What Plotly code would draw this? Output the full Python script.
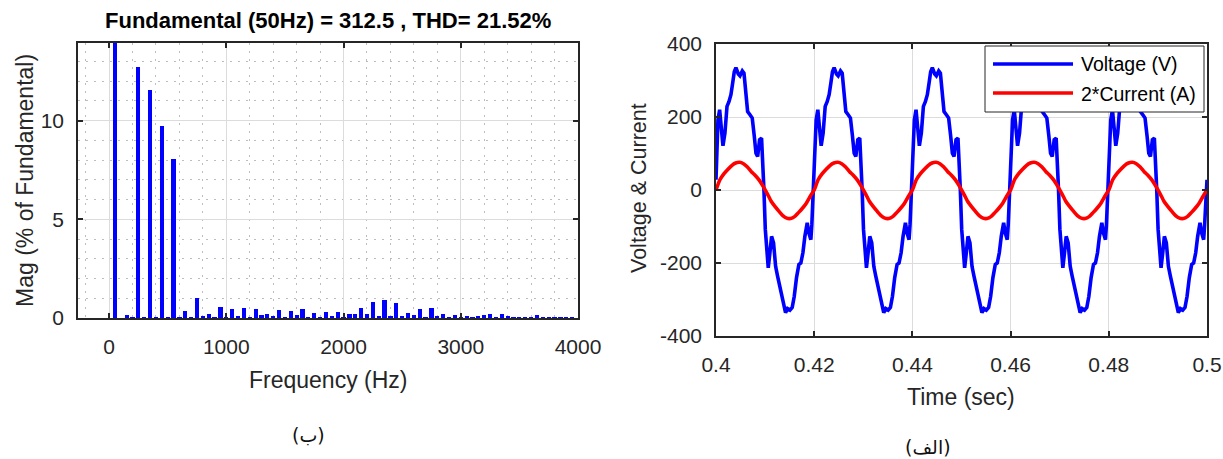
import plotly.graph_objects as go

# ---------------- data ----------------
# FFT spectrum (left panel)
FREQ_HZ = [50, 150, 200, 250, 300, 350, 400, 450, 500, 550, 600, 650, 700, 750, 800,
           850, 900, 950, 1000, 1050, 1100, 1150, 1200, 1250, 1300, 1350, 1400, 1450,
           1500, 1550, 1600, 1650, 1700, 1750, 1800, 1850, 1900, 1950, 2000, 2050,
           2100, 2150, 2200, 2250, 2300, 2350, 2400, 2450, 2500, 2550, 2600, 2650,
           2700, 2750, 2800, 2850, 2900, 2950, 3000, 3050, 3100, 3150, 3200, 3250,
           3300, 3350, 3400, 3450, 3500, 3550, 3600, 3650, 3700, 3750, 3800, 3850,
           3900, 3950]
MAG_PCT = [100, 0.15, 0.05, 12.73, 0.05, 11.53, 0.05, 9.71, 0.05, 8.07, 0.05, 0.35, 0.05,
           1.01, 0.10, 0.20, 0.05, 0.57, 0.05, 0.45, 0.10, 0.49, 0.05, 0.45, 0.14, 0.22,
           0.07, 0.43, 0.05, 0.35, 0.15, 0.46, 0.05, 0.25, 0.05, 0.30, 0.12, 0.29, 0.05,
           0.20, 0.20, 0.49, 0.22, 0.79, 0.10, 0.89, 0.08, 0.74, 0.12, 0.27, 0.15, 0.44,
           0.05, 0.49, 0.10, 0.22, 0.05, 0.14, 0.05, 0.12, 0.02, 0.12, 0.14, 0.22, 0.02,
           0.20, 0.08, 0.05, 0.03, 0.02, 0.05, 0.14, 0.02, 0.03, 0.02, 0.05, 0.05, 0.05]
FREQ_TICKS = [0, 1000, 2000, 3000, 4000]
MAG_TICKS = [0, 5, 10]

# Waveforms (right panel): one 50 Hz period, repeated 5 times
T_START = 0.4
PERIOD_S = 0.02
N_PERIODS = 5
V_PHASE = [0.000, 0.010, 0.020, 0.037, 0.054, 0.071, 0.091, 0.112, 0.132, 0.152, 0.169,
           0.186, 0.203, 0.227, 0.244, 0.268, 0.285, 0.305, 0.322, 0.346, 0.369, 0.390,
           0.407, 0.424, 0.444, 0.464, 0.478, 0.488, 0.502, 0.515, 0.532, 0.549, 0.566,
           0.586, 0.607, 0.627, 0.647, 0.668, 0.688, 0.708, 0.729, 0.753, 0.776, 0.797,
           0.820, 0.844, 0.864, 0.885, 0.905, 0.929, 0.946, 0.966, 0.976, 0.988]
V_VALUES = [28, 119, 192, 220, 174, 121, 156, 229, 242, 261, 292, 324, 335, 318, 313,
            326, 320, 265, 215, 206, 197, 147, 101, 92, 138, 142, 74, 1, -108, -172,
            -213, -172, -127, -145, -209, -236, -263, -291, -318, -336, -325, -329, -322,
            -291, -240, -204, -200, -172, -127, -90, -118, -136, -95, -20]
I_PHASE = [0.00, 0.04, 0.08, 0.12, 0.16, 0.20, 0.24, 0.28, 0.32, 0.36, 0.40, 0.44, 0.48,
           0.52, 0.56, 0.60, 0.64, 0.68, 0.72, 0.76, 0.80, 0.84, 0.88, 0.92, 0.96]
I_VALUES = [0, 28, 44, 56, 67, 74, 76, 72, 63, 50, 40, 27, 10, -9, -30, -45, -58, -70,
            -77, -78, -73, -62, -50, -36, -17]
TIME_TICKS = [0.4, 0.42, 0.44, 0.46, 0.48, 0.5]
TIME_TICK_TEXT = ["0.4", "0.42", "0.44", "0.46", "0.48", "0.5"]
VI_TICKS = [-400, -200, 0, 200, 400]
VI_TICK_TEXT = ["-400", "-200", "0", "200", "400"]


def tile(phases, values):
    t, v = [], []
    for k in range(N_PERIODS):
        for p, val in zip(phases, values):
            t.append(T_START + (k + p) * PERIOD_S)
            v.append(val)
    t.append(T_START + N_PERIODS * PERIOD_S)
    v.append(values[0])
    return t, v


tv, vv = tile(V_PHASE, V_VALUES)
ti, iv = tile(I_PHASE, I_VALUES)

# ---------------- figure ----------------
W, H = 1223, 459
FONT = "Liberation Sans, Arial, Helvetica, sans-serif"
AX = "#262626"
GRID = "#dcdcdc"
MINOR = dict(showgrid=True, griddash="2px,6px", gridcolor="#bdbdbd", gridwidth=1, ticks="")


def px(x):
    return x / W


def py(y):
    return 1 - y / H


fig = go.Figure()
fig.add_trace(go.Bar(x=FREQ_HZ, y=MAG_PCT, width=36, marker=dict(color="#0000ff", line=dict(width=0)),
                     xaxis="x", yaxis="y", showlegend=False))
fig.add_trace(go.Scatter(x=tv, y=vv, mode="lines", line=dict(color="#0000ff", width=3.6),
                         name="Voltage (V)", xaxis="x2", yaxis="y2", showlegend=False))
fig.add_trace(go.Scatter(x=ti, y=iv, mode="lines", line=dict(color="#ff0000", width=3.6, shape="spline", smoothing=0.6),
                         name="2*Current (A)", xaxis="x2", yaxis="y2", showlegend=False))

axis_common = dict(showline=True, linecolor=AX, linewidth=1.6, mirror="ticks", ticks="inside",
                   ticklen=5, tickwidth=1.6, tickcolor=AX, zeroline=False, showgrid=True,
                   automargin=False,
                   gridcolor=GRID, gridwidth=1, tickfont=dict(family=FONT, size=21, color=AX))

fig.update_layout(
    width=W, height=H, margin=dict(l=0, r=0, t=0, b=0, autoexpand=False),
    paper_bgcolor="white", plot_bgcolor="white", bargap=0,
    xaxis=dict(domain=[px(78), px(578)], range=[-265, 4000], tickvals=FREQ_TICKS,
               anchor="y", ticklabelstandoff=9,
               minor=dict(dtick=200, tick0=0, **MINOR),
               **axis_common),
    yaxis=dict(domain=[py(318), py(43)], range=[0, 13.93], tickvals=MAG_TICKS,
               anchor="x", ticklabelstandoff=8,
               minor=dict(dtick=1, tick0=0, **MINOR),
               **axis_common),
    xaxis2=dict(domain=[px(716), px(1207)], range=[0.4, 0.5], tickvals=TIME_TICKS,
                ticktext=TIME_TICK_TEXT, anchor="y2", ticklabelstandoff=9, **axis_common),
    yaxis2=dict(domain=[py(336), py(44)], range=[-400, 400], tickvals=VI_TICKS,
                ticktext=VI_TICK_TEXT, anchor="x2", ticklabelstandoff=8, **axis_common),
)

ann = [
    dict(text="<b>Fundamental (50Hz) = 312.5 , THD= 21.52%</b>", x=px(328), y=py(20),
         font=dict(family=FONT, size=22, color="#000000")),
    dict(text="Frequency (Hz)", x=px(328), y=py(380), font=dict(family=FONT, size=23, color=AX)),
    dict(text="Mag (% of Fundamental)", x=px(25), y=py(181), textangle=-90,
         font=dict(family=FONT, size=23, color=AX)),
    dict(text="Time (sec)", x=px(961), y=py(397), font=dict(family=FONT, size=23, color=AX)),
    dict(text="Voltage & Current", x=px(639), y=py(188), textangle=-90,
         font=dict(family=FONT, size=21.5, color=AX)),
    dict(text="(ب)", x=px(309), y=py(435), font=dict(family="DejaVu Sans, Noto Sans, sans-serif", size=19, color="#111111")),
    dict(text="(الف)", x=px(928), y=py(447), font=dict(family="DejaVu Sans, Noto Sans, sans-serif", size=19, color="#111111")),
    dict(text="Voltage (V)", x=px(1079), y=py(64), xanchor="left",
         font=dict(family=FONT, size=19.5, color="#000000")),
    dict(text="2*Current (A)", x=px(1079), y=py(94), xanchor="left",
         font=dict(family=FONT, size=19.5, color="#000000")),
]
for a in ann:
    a.setdefault("xanchor", "center")
    a.setdefault("yanchor", "middle")
    a.update(xref="paper", yref="paper", showarrow=False)
fig.update_layout(annotations=ann)

# legend box (drawn manually to match the long legend lines)
fig.update_layout(shapes=[
    dict(type="rect", xref="paper", yref="paper", x0=px(985), x1=px(1204), y0=py(112), y1=py(46),
         fillcolor="white", line=dict(color=AX, width=1)),
    dict(type="line", xref="paper", yref="paper", x0=px(993), x1=px(1073), y0=py(64), y1=py(64),
         line=dict(color="#0000ff", width=3.6)),
    dict(type="line", xref="paper", yref="paper", x0=px(993), x1=px(1073), y0=py(93), y1=py(93),
         line=dict(color="#ff0000", width=3.6)),
])

fig.write_html("out.html")
